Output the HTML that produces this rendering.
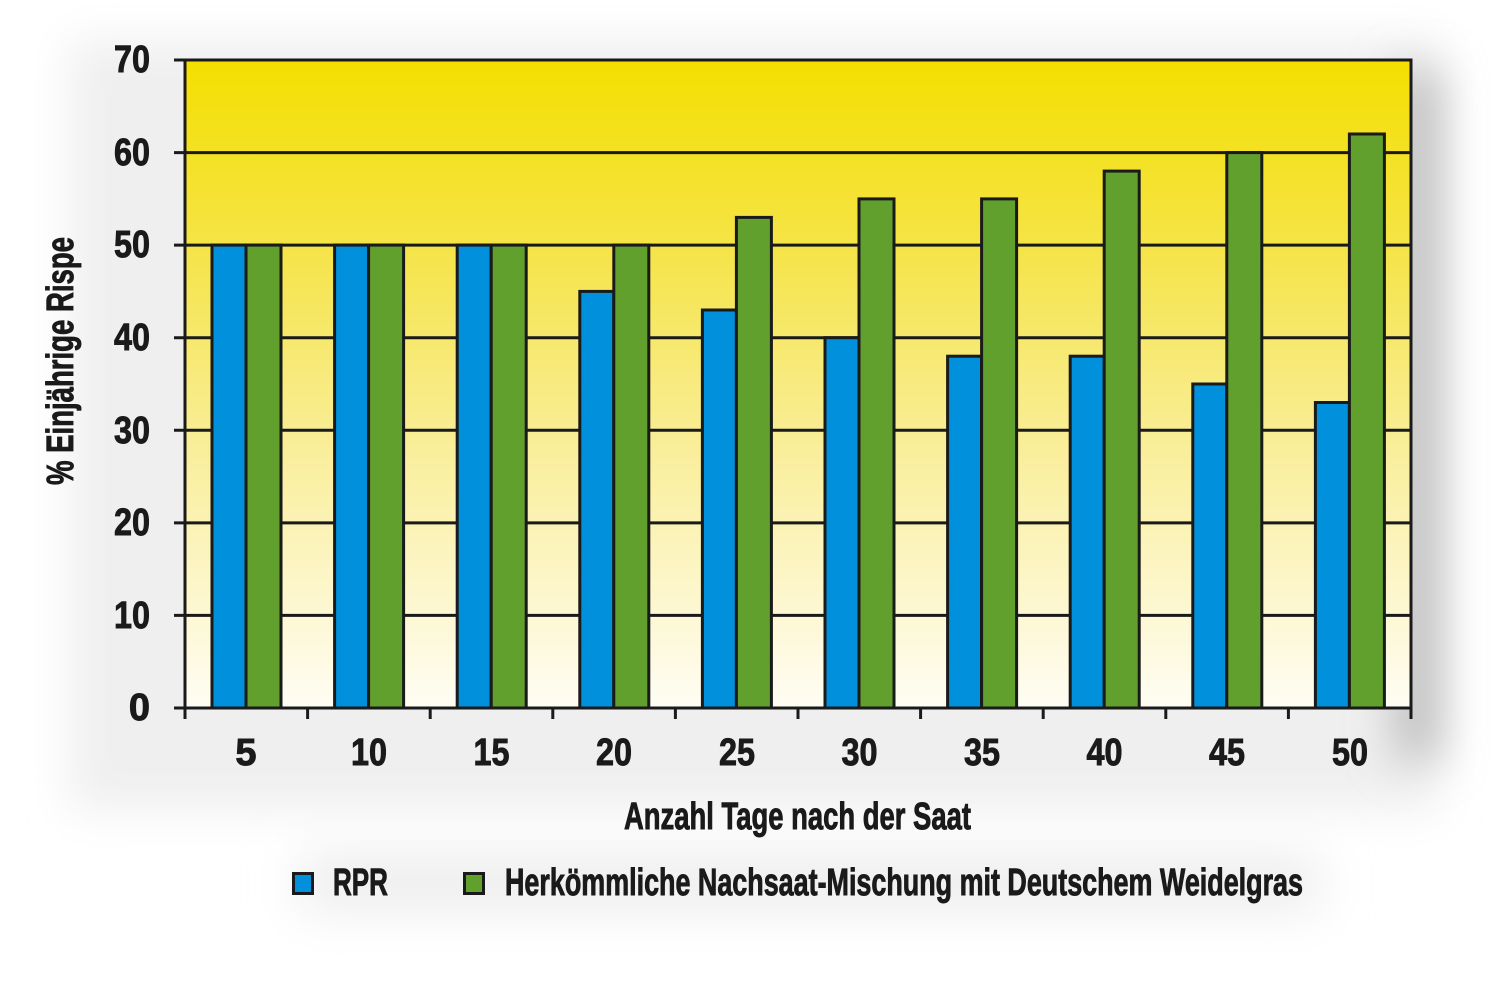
<!DOCTYPE html>
<html><head><meta charset="utf-8"><style>
html,body{margin:0;padding:0;background:#fff;}
svg{display:block;}
text{font-family:"Liberation Sans",sans-serif;font-weight:bold;fill:#1a1a1a;stroke:#1a1a1a;stroke-width:0.9;}
</style></head><body>
<svg width="1500" height="996" viewBox="0 0 1500 996" xmlns="http://www.w3.org/2000/svg">
<defs>
<linearGradient id="bg" x1="0" y1="0" x2="0" y2="1">
<stop offset="0" stop-color="#f4df00"/>
<stop offset="0.3" stop-color="#f5e44a"/>
<stop offset="0.6" stop-color="#f9ee9a"/>
<stop offset="1" stop-color="#fffdf4"/>
</linearGradient>
<filter id="blur" filterUnits="userSpaceOnUse" x="0" y="0" width="1500" height="996"><feGaussianBlur stdDeviation="22"/></filter>
<filter id="blur2" filterUnits="userSpaceOnUse" x="0" y="0" width="1500" height="996"><feGaussianBlur stdDeviation="25"/></filter>
</defs>
<rect x="0" y="0" width="1500" height="996" fill="#fff"/>
<rect x="70" y="40" width="1370" height="770" fill="#efefef" filter="url(#blur)"/>
<rect x="1395" y="70" width="45" height="690" fill="#bdbdbd" filter="url(#blur)"/>
<rect x="300" y="855" width="1020" height="55" fill="#ececec" filter="url(#blur2)"/>
<rect x="185" y="60" width="1226" height="648" fill="url(#bg)"/>
<g stroke="#1a1a1a" stroke-width="3">
<line x1="174" y1="60" x2="1411" y2="60"/>
<line x1="174" y1="152.6" x2="1411" y2="152.6"/>
<line x1="174" y1="245.1" x2="1411" y2="245.1"/>
<line x1="174" y1="337.7" x2="1411" y2="337.7"/>
<line x1="174" y1="430.3" x2="1411" y2="430.3"/>
<line x1="174" y1="522.9" x2="1411" y2="522.9"/>
<line x1="174" y1="615.4" x2="1411" y2="615.4"/>
</g>
<g stroke="#1a1a1a" stroke-width="3">
<rect x="212" y="245.1" width="34" height="462.9" fill="#0090dc"/><rect x="246" y="245.1" width="35" height="462.9" fill="#62a02e"/>
<rect x="334.6" y="245.1" width="34" height="462.9" fill="#0090dc"/><rect x="368.6" y="245.1" width="35" height="462.9" fill="#62a02e"/>
<rect x="457.2" y="245.1" width="34" height="462.9" fill="#0090dc"/><rect x="491.2" y="245.1" width="35" height="462.9" fill="#62a02e"/>
<rect x="579.8" y="291.4" width="34" height="416.6" fill="#0090dc"/><rect x="613.8" y="245.1" width="35" height="462.9" fill="#62a02e"/>
<rect x="702.4" y="310" width="34" height="398" fill="#0090dc"/><rect x="736.4" y="217.4" width="35" height="490.6" fill="#62a02e"/>
<rect x="825" y="337.7" width="34" height="370.3" fill="#0090dc"/><rect x="859" y="198.9" width="35" height="509.1" fill="#62a02e"/>
<rect x="947.6" y="356.2" width="34" height="351.8" fill="#0090dc"/><rect x="981.6" y="198.9" width="35" height="509.1" fill="#62a02e"/>
<rect x="1070.2" y="356.2" width="34" height="351.8" fill="#0090dc"/><rect x="1104.2" y="171.1" width="35" height="536.9" fill="#62a02e"/>
<rect x="1192.8" y="384" width="34" height="324" fill="#0090dc"/><rect x="1226.8" y="152.6" width="35" height="555.4" fill="#62a02e"/>
<rect x="1315.4" y="402.5" width="34" height="305.5" fill="#0090dc"/><rect x="1349.4" y="134" width="35" height="574" fill="#62a02e"/>
</g>
<g stroke="#1a1a1a" stroke-width="3" fill="none">
<line x1="185" y1="58.5" x2="185" y2="719"/>
<line x1="1411" y1="58.5" x2="1411" y2="719"/>
<line x1="174" y1="708" x2="1412.5" y2="708"/>
<line x1="307.6" y1="708" x2="307.6" y2="719"/>
<line x1="430.2" y1="708" x2="430.2" y2="719"/>
<line x1="552.8" y1="708" x2="552.8" y2="719"/>
<line x1="675.4" y1="708" x2="675.4" y2="719"/>
<line x1="798" y1="708" x2="798" y2="719"/>
<line x1="920.6" y1="708" x2="920.6" y2="719"/>
<line x1="1043.2" y1="708" x2="1043.2" y2="719"/>
<line x1="1165.8" y1="708" x2="1165.8" y2="719"/>
<line x1="1288.4" y1="708" x2="1288.4" y2="719"/>
</g>
<g font-size="38" text-anchor="end">
<text x="150" y="72" textLength="36" lengthAdjust="spacingAndGlyphs">70</text>
<text x="150" y="165" textLength="36" lengthAdjust="spacingAndGlyphs">60</text>
<text x="150" y="257" textLength="36" lengthAdjust="spacingAndGlyphs">50</text>
<text x="150" y="350" textLength="36" lengthAdjust="spacingAndGlyphs">40</text>
<text x="150" y="443" textLength="36" lengthAdjust="spacingAndGlyphs">30</text>
<text x="150" y="535" textLength="36" lengthAdjust="spacingAndGlyphs">20</text>
<text x="150" y="628" textLength="36" lengthAdjust="spacingAndGlyphs">10</text>
<text x="150" y="720">0</text>
</g>
<g font-size="38" text-anchor="middle">
<text x="246" y="765">5</text>
<text x="369" y="765" textLength="36" lengthAdjust="spacingAndGlyphs">10</text>
<text x="491.5" y="765" textLength="36" lengthAdjust="spacingAndGlyphs">15</text>
<text x="614" y="765" textLength="36" lengthAdjust="spacingAndGlyphs">20</text>
<text x="737" y="765" textLength="36" lengthAdjust="spacingAndGlyphs">25</text>
<text x="859.5" y="765" textLength="36" lengthAdjust="spacingAndGlyphs">30</text>
<text x="982" y="765" textLength="36" lengthAdjust="spacingAndGlyphs">35</text>
<text x="1104.5" y="765" textLength="36" lengthAdjust="spacingAndGlyphs">40</text>
<text x="1227" y="765" textLength="36" lengthAdjust="spacingAndGlyphs">45</text>
<text x="1350" y="765" textLength="36" lengthAdjust="spacingAndGlyphs">50</text>
</g>
<text x="624" y="829" font-size="38" textLength="347" lengthAdjust="spacingAndGlyphs">Anzahl Tage nach der Saat</text>
<text transform="translate(73,485) rotate(-90)" font-size="38" textLength="248" lengthAdjust="spacingAndGlyphs">% Einjährige Rispe</text>
<rect x="293.5" y="873.5" width="19" height="20" fill="#0090dc" stroke="#1a1a1a" stroke-width="3"/>
<rect x="464.5" y="873.5" width="19" height="20" fill="#62a02e" stroke="#1a1a1a" stroke-width="3"/>
<text x="333" y="895" font-size="38" textLength="55" lengthAdjust="spacingAndGlyphs">RPR</text>
<text x="505" y="895" font-size="38" textLength="798" lengthAdjust="spacingAndGlyphs">Herkömmliche Nachsaat-Mischung mit Deutschem Weidelgras</text>
</svg>
</body></html>
